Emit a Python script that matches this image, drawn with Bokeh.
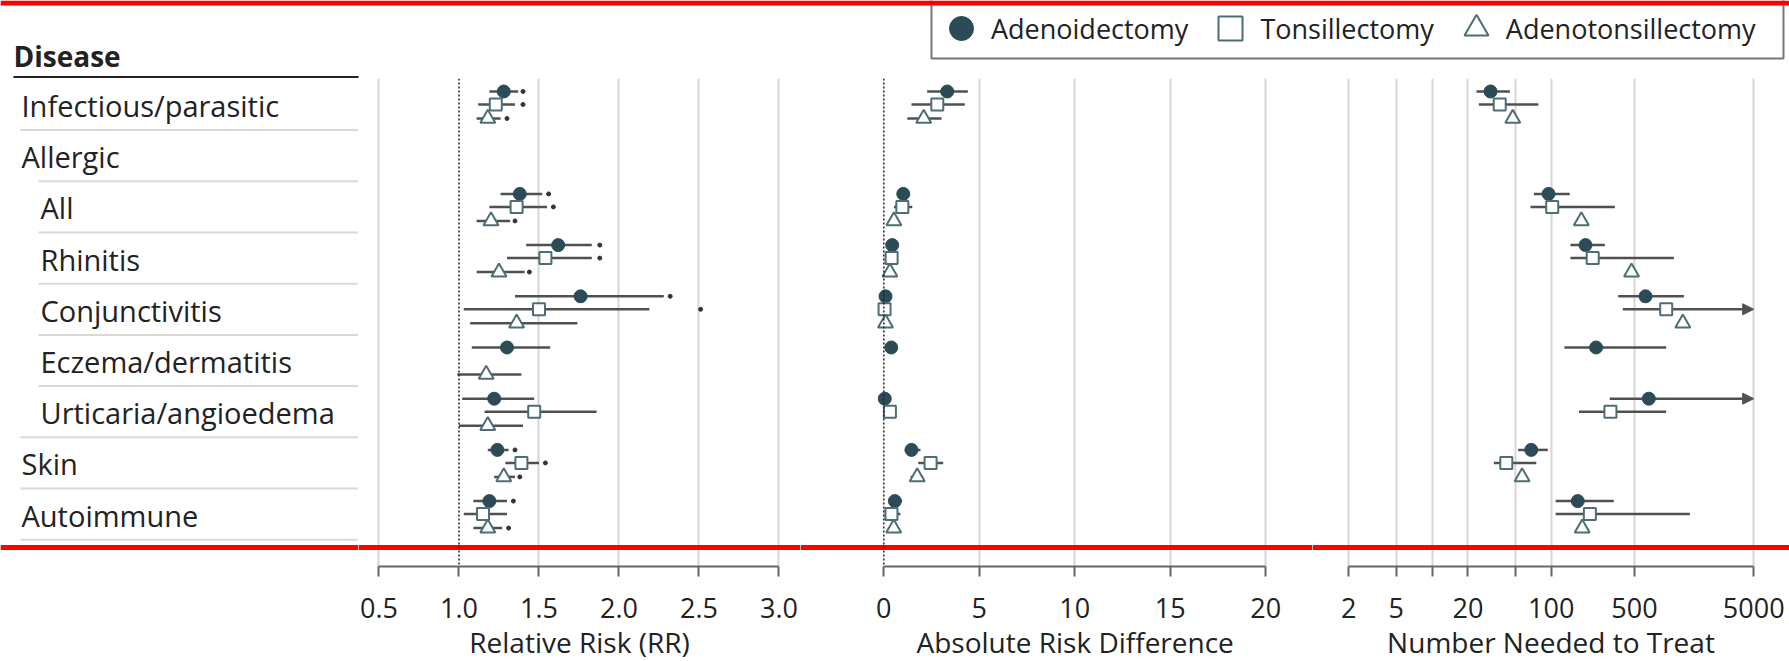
import numpy as np
from bokeh.plotting import figure
from bokeh.models import (Range1d, ColumnDataSource, Span, Legend, LegendItem, Title,
                          FixedTicker, PrintfTickFormatter, NumeralTickFormatter,
                          BasicTickFormatter, Arrow, NormalHead)
from bokeh.layouts import column, row
from bokeh.embed import file_html
from bokeh.resources import INLINE
from bokeh.core.properties import value

nan = np.nan
inf = np.inf

# ---------------- data ----------------
categories = ["Infectious/parasitic", "Allergic", "All", "Rhinitis", "Conjunctivitis",
              "Eczema/dermatitis", "Urticaria/angioedema", "Skin", "Autoimmune"]
category_level = [0, 0, 1, 1, 1, 1, 1, 0, 0]
procedures = ["Adenoidectomy", "Tonsillectomy", "Adenotonsillectomy"]

rr_ticks = [0.5, 1.0, 1.5, 2.0, 2.5, 3.0]
ard_ticks = [0, 5, 10, 15, 20]
nnt_ticks = [2, 5, 20, 100, 500, 5000]
nnt_minor_ticks = [10, 50]

# Relative risk (point, CI low, CI high, marker beyond CI)
rr_adeno      = [1.28, nan, 1.38, 1.62, 1.76, 1.30, 1.22, 1.24, 1.19]
rr_adeno_lo   = [1.19, nan, 1.26, 1.42, 1.35, 1.08, 1.02, 1.18, 1.09]
rr_adeno_hi   = [1.37, nan, 1.52, 1.83, 2.28, 1.57, 1.47, 1.31, 1.30]
rr_adeno_dot  = [1.40, nan, 1.56, 1.88, 2.32, nan, nan, 1.35, 1.34]
rr_tonsil     = [1.23, nan, 1.36, 1.54, 1.50, nan, 1.47, 1.39, 1.15]
rr_tonsil_lo  = [1.12, nan, 1.19, 1.30, 1.03, nan, 1.16, 1.29, 1.03]
rr_tonsil_hi  = [1.35, nan, 1.55, 1.83, 2.19, nan, 1.86, 1.50, 1.30]
rr_tonsil_dot = [1.40, nan, 1.59, 1.88, 2.51, nan, nan, 1.54, nan]
rr_at         = [1.18, nan, 1.20, 1.25, 1.36, 1.17, 1.18, 1.28, 1.18]
rr_at_lo      = [1.11, nan, 1.11, 1.11, 1.07, 0.99, 1.00, 1.22, 1.09]
rr_at_hi      = [1.26, nan, 1.32, 1.41, 1.74, 1.39, 1.40, 1.35, 1.27]
rr_at_dot     = [1.30, nan, 1.35, 1.44, nan, nan, nan, 1.38, 1.31]

# Absolute risk difference
ard_adeno     = [3.32, nan, 1.02, 0.44, 0.09, 0.39, 0.05, 1.45, 0.58]
ard_adeno_lo  = [2.27, nan, 0.78, 0.30, 0.00, 0.25, 0.00, 1.10, 0.26]
ard_adeno_hi  = [4.40, nan, 1.30, 0.60, 0.20, 0.55, 0.12, 1.92, 0.96]
ard_tonsil    = [2.80, nan, 0.97, 0.41, 0.04, nan, 0.32, 2.45, 0.40]
ard_tonsil_lo = [1.45, nan, 0.53, 0.25, 0.00, nan, 0.15, 1.80, 0.05]
ard_tonsil_hi = [4.24, nan, 1.49, 0.58, 0.10, nan, 0.50, 3.11, 0.87]
ard_at        = [2.09, nan, 0.53, 0.32, 0.09, nan, nan, 1.75, 0.52]
ard_at_lo     = [1.23, nan, 0.30, 0.10, 0.00, nan, nan, 1.40, 0.30]
ard_at_hi     = [3.02, nan, 0.80, 0.55, 0.20, nan, nan, 2.06, 0.80]

# Number needed to treat (inf = open-ended upper limit)
nnt_adeno     = [31, nan, 95, 194, 618, 238, 659, 68, 167]
nnt_adeno_lo  = [23.6, nan, 71.5, 145, 365, 129, 310, 52.8, 109]
nnt_adeno_hi  = [45, nan, 143, 282, 1297, 922, inf, 93.6, 335]
nnt_tonsil    = [37, nan, 102, 223, 922, nan, 314, 42, 211]
nnt_tonsil_lo = [24.7, nan, 67, 145, 399, nan, 171, 33, 109]
nnt_tonsil_hi = [78, nan, 342, 1069, inf, nan, 922, 75, 1456]
nnt_at        = [47.6, nan, 179, 472, 1271, nan, nan, 57, 182]
nnt_at_lo     = [nan] * 9
nnt_at_hi     = [nan] * 9

# ---------------- style ----------------
FONT = "Open Sans"
INK = "#222222"
DARK = "#2b4b56"
OPEN = "#4d6e75"
CI = "#505050"
GRID = "#d6d6d6"
AXIS = "#666666"
RED = "#ff0000"

marker_styles = [
    dict(marker="circle", size=13, fill_color=DARK, line_color=DARK, line_width=1),
    dict(marker="square", size=12, fill_color="white", line_color=OPEN, line_width=2),
    dict(marker="triangle", size=15, fill_color="white", line_color=OPEN, line_width=2),
]
row_offsets = [-0.254, 0.0, 0.273]

Y_TOP, Y_BOTTOM = -0.5078, 9.0234
RED_ROW_Y = 8.643
HDR_H = 78
ROW_H = 661 - HDR_H
BOTTOM = 95

rows = np.arange(len(categories), dtype=float)


def red_line(p):
    p.hspan(y=[RED_ROW_Y], line_color=RED, line_width=5)


def base_fig(width, x_range, **kw):
    p = figure(width=width, height=ROW_H, x_range=x_range, y_range=Range1d(Y_BOTTOM, Y_TOP),
               y_axis_location=None, output_backend="svg", toolbar_location=None,
               min_border_left=0, min_border_right=0, min_border_top=0,
               min_border_bottom=BOTTOM, **kw)
    p.outline_line_color = None
    p.background_fill_color = "white"
    p.border_fill_color = "white"
    p.ygrid.visible = False
    return p


def panel(width, x_range, axis_type, ticks, bounds, grid_ticks, formatter, title,
          title_align="center", title_offset=0, ref=None, minor=None):
    p = base_fig(width, x_range, x_axis_type=axis_type)
    ax = p.xaxis[0]
    ax.ticker = FixedTicker(ticks=ticks, minor_ticks=minor or [])
    ax.bounds = bounds
    ax.formatter = formatter
    ax.axis_line_color = AXIS
    ax.axis_line_width = 2
    ax.major_tick_line_color = AXIS
    ax.major_tick_line_width = 2
    ax.major_tick_in = 0
    ax.major_tick_out = 10
    ax.minor_tick_line_color = AXIS if minor else None
    ax.minor_tick_line_width = 2
    ax.minor_tick_in = 0
    ax.minor_tick_out = 10
    ax.major_label_text_font = FONT
    ax.major_label_text_font_size = "27px"
    ax.major_label_text_color = INK
    ax.major_label_standoff = 21
    g = p.xgrid[0]
    g.ticker = FixedTicker(ticks=grid_ticks)
    g.grid_line_color = GRID
    g.grid_line_width = 2
    if ref is not None:
        p.add_layout(Span(location=ref, dimension="height", line_color=INK,
                          line_width=1.5, line_dash="2 2"))
    p.add_layout(Title(text=title, align=title_align, offset=title_offset, standoff=0,
                       text_font=FONT, text_font_size="28px", text_font_style="normal",
                       text_color=INK), "below")
    return p


def add_series(p, series, dots=False):
    for k, s in enumerate(series):
        pt, lo, hi = (np.array(a, dtype=float) for a in s[:3])
        y = rows + row_offsets[k]
        open_end = np.isinf(hi)
        seg_hi = np.where(open_end, nan, hi)
        data = dict(y=y, x=pt, lo=lo, hi=seg_hi)
        if dots:
            data["dot"] = np.array(s[3], dtype=float)
        src = ColumnDataSource(data)
        p.segment(x0="lo", y0="y", x1="hi", y1="y", source=src, line_color=CI, line_width=2.5)
        if open_end.any():
            asrc = ColumnDataSource(dict(y=y[open_end], lo=lo[open_end],
                                         hi=np.full(int(open_end.sum()), float(nnt_ticks[-1]))))
            p.add_layout(Arrow(end=NormalHead(size=11, fill_color=CI, line_color=CI, line_width=1),
                               x_start="lo", y_start="y", x_end="hi", y_end="y", source=asrc,
                               line_color=CI, line_width=2.5, level="underlay"))
        if dots:
            p.scatter(x="dot", y="y", source=src, size=4, color="#333333")
        p.scatter(x="x", y="y", source=src, **marker_styles[k])


# ---------------- header ----------------
hdr = figure(width=1789, height=HDR_H, x_range=Range1d(0, 1789), y_range=Range1d(HDR_H, 0),
             x_axis_location=None, y_axis_location=None, output_backend="svg",
             toolbar_location=None, min_border=0)
hdr.outline_line_color = None
hdr.grid.visible = False
hdr.text(x=[13], y=[55], text=["Disease"], text_font=value(FONT), text_font_style="bold",
         text_font_size="28px", text_color=INK, text_baseline="alphabetic")
hdr.segment(x0=[13], y0=[77], x1=[358], y1=[77], line_color=INK, line_width=3)
hdr.quad(left=[931], right=[1783], top=[-3], bottom=[58], fill_color="white",
         line_color="#777777", line_width=2)
legend_renderers = [hdr.scatter(x=[nan], y=[nan], **st) for st in marker_styles]
legend = Legend(items=[LegendItem(label=name, renderers=[r])
                       for name, r in zip(procedures, legend_renderers)],
                location=(931, 20), orientation="horizontal", glyph_width=60, glyph_height=60,
                padding=0, spacing=12, label_standoff=0, margin=0,
                label_text_font=FONT, label_text_font_size="27px", label_text_color=INK,
                border_line_color=None, background_fill_alpha=0.0)
hdr.add_layout(legend)
hdr.add_layout(Span(location=2.5, dimension="width", line_color=RED, line_width=5))

# ---------------- label column ----------------
lab = base_fig(358, Range1d(0, 358), x_axis_location=None)
lab.grid.visible = False
label_x = [21 if lv == 0 else 40 for lv in category_level]
next_level = category_level[1:] + [0]
line_x0 = [20 if lv == 0 else 38 for lv in next_level]
lab.segment(x0=line_x0, y0=rows + 0.5, x1=358, y1=rows + 0.5, line_color="#dbd8cf", line_width=2)
lab.text(x=label_x, y=rows + 0.02, text=categories, text_font=value(FONT),
         text_font_size="29px", text_color=INK, text_baseline="alphabetic")

# ---------------- panels ----------------
rr_range = Range1d(0.3719, 3.1344)
ard_range = Range1d(-4.361, 22.445)
nnt_range = Range1d(0.9942, 9980.7)

rr = panel(442, rr_range, "linear", rr_ticks, (rr_ticks[0], rr_ticks[-1]),
           [t for t in rr_ticks if t != 1.0], PrintfTickFormatter(format="%.1f"),
           "Relative Risk (RR)", ref=1.0)
add_series(rr, [(rr_adeno, rr_adeno_lo, rr_adeno_hi, rr_adeno_dot),
                (rr_tonsil, rr_tonsil_lo, rr_tonsil_hi, rr_tonsil_dot),
                (rr_at, rr_at_lo, rr_at_hi, rr_at_dot)], dots=True)

ard = panel(512, ard_range, "linear", ard_ticks, (ard_ticks[0], ard_ticks[-1]),
            [t for t in ard_ticks if t != 0], BasicTickFormatter(),
            "Absolute Risk Difference", title_align="left", title_offset=116, ref=0)
add_series(ard, [(ard_adeno, ard_adeno_lo, ard_adeno_hi),
                 (ard_tonsil, ard_tonsil_lo, ard_tonsil_hi),
                 (ard_at, ard_at_lo, ard_at_hi)])

nnt = panel(477, nnt_range, "log", nnt_ticks, (nnt_ticks[0], nnt_ticks[-1]),
            sorted(nnt_ticks + nnt_minor_ticks), NumeralTickFormatter(format="0"),
            "Number Needed to Treat", minor=nnt_minor_ticks)
add_series(nnt, [(nnt_adeno, nnt_adeno_lo, nnt_adeno_hi),
                 (nnt_tonsil, nnt_tonsil_lo, nnt_tonsil_hi),
                 (nnt_at, nnt_at_lo, nnt_at_hi)])

for f in (lab, rr, ard, nnt):
    red_line(f)

layout = column(hdr, row(lab, rr, ard, nnt))
open("out.html", "w").write(file_html(layout, INLINE, "Forest plot"))
